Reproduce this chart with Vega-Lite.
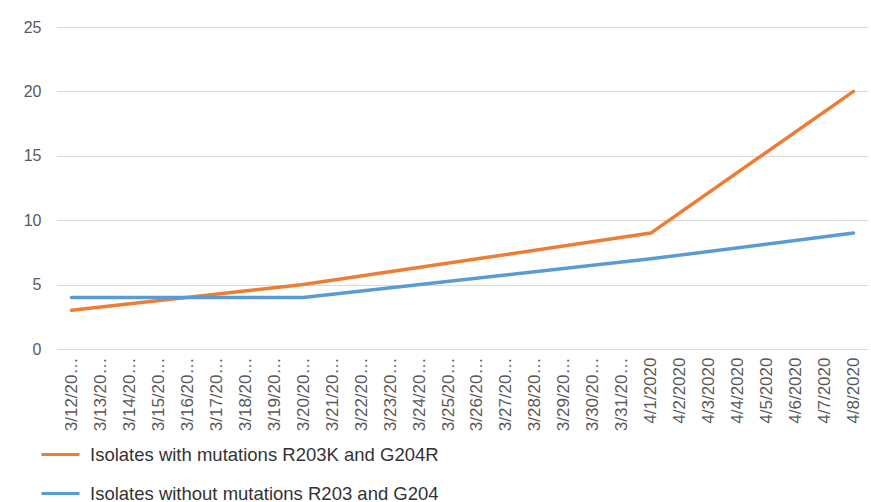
{
  "$schema": "https://vega.github.io/schema/vega-lite/v6.json",
  "width": 811,
  "height": 322,
  "autosize": {"type": "none"},
  "padding": {"left": 57, "top": 27, "right": 3, "bottom": 153},
  "background": "white",
  "config": {
    "view": {"stroke": null},
    "font": "Liberation Sans"
  },
  "data": {
    "values": [
      {"date": "3/12/2020", "series": "Isolates with mutations R203K and G204R", "count": 3},
      {"date": "3/20/2020", "series": "Isolates with mutations R203K and G204R", "count": 5},
      {"date": "4/1/2020", "series": "Isolates with mutations R203K and G204R", "count": 9},
      {"date": "4/8/2020", "series": "Isolates with mutations R203K and G204R", "count": 20},
      {"date": "3/12/2020", "series": "Isolates without mutations R203 and G204", "count": 4},
      {"date": "3/20/2020", "series": "Isolates without mutations R203 and G204", "count": 4},
      {"date": "4/1/2020", "series": "Isolates without mutations R203 and G204", "count": 7},
      {"date": "4/8/2020", "series": "Isolates without mutations R203 and G204", "count": 9}
    ]
  },
  "mark": {"type": "line", "strokeWidth": 3.5, "strokeCap": "round", "strokeJoin": "round"},
  "encoding": {
    "x": {
      "field": "date",
      "type": "ordinal",
      "scale": {
        "type": "point",
        "padding": 0.5,
        "domain": ["3/12/2020","3/13/2020","3/14/2020","3/15/2020","3/16/2020","3/17/2020","3/18/2020","3/19/2020","3/20/2020","3/21/2020","3/22/2020","3/23/2020","3/24/2020","3/25/2020","3/26/2020","3/27/2020","3/28/2020","3/29/2020","3/30/2020","3/31/2020","4/1/2020","4/2/2020","4/3/2020","4/4/2020","4/5/2020","4/6/2020","4/7/2020","4/8/2020"]
      },
      "axis": {
        "title": null,
        "labelAngle": -90,
        "labelAlign": "right",
        "labelBaseline": "middle",
        "labelFontSize": 17,
        "labelColor": "#595959",
        "labelLimit": 74.5,
        "labelPadding": 8,
        "ticks": false,
        "domain": false,
        "grid": false
      }
    },
    "y": {
      "field": "count",
      "type": "quantitative",
      "scale": {"domain": [0, 25]},
      "axis": {
        "title": null,
        "values": [0, 5, 10, 15, 20, 25],
        "labelFontSize": 16,
        "labelColor": "#595959",
        "labelPadding": 16,
        "ticks": false,
        "domain": false,
        "gridColor": "#d9d9d9",
        "gridWidth": 1.2
      }
    },
    "color": {
      "field": "series",
      "type": "nominal",
      "scale": {
        "domain": ["Isolates with mutations R203K and G204R", "Isolates without mutations R203 and G204"],
        "range": ["#ED7D31", "#5B9BD5"]
      },
      "legend": {
        "title": null,
        "orient": "none",
        "legendX": -17,
        "legendY": 407,
        "direction": "vertical",
        "symbolType": "stroke",
        "symbolSize": 1444,
        "symbolStrokeWidth": 3,
        "labelFontSize": 18.5,
        "labelColor": "#333333",
        "labelOffset": 9,
        "labelLimit": 600,
        "rowPadding": 9
      }
    }
  }
}
